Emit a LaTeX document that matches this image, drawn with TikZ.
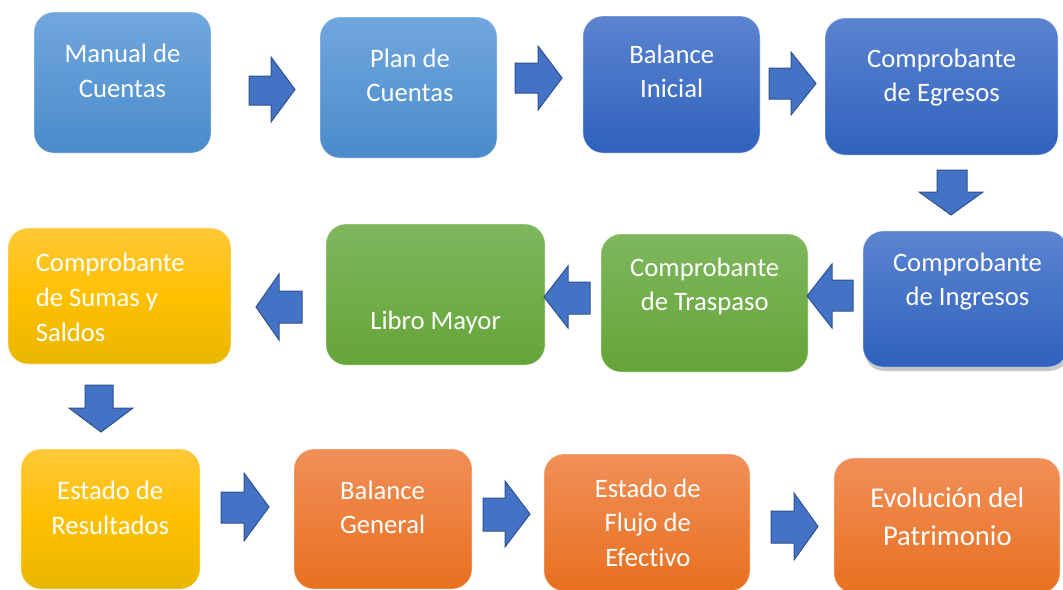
\documentclass[tikz,border=0pt]{standalone}
\usepackage{fontspec}
\setmainfont{Carlito}[Ligatures=NoCommon]
\usetikzlibrary{shadows}
\definecolor{lbTop}{HTML}{71A7DD}
\definecolor{lbBot}{HTML}{4A8BCB}
\definecolor{dbTop}{HTML}{5B83D0}
\definecolor{dbBot}{HTML}{2F62BD}
\definecolor{gTop}{HTML}{7EB75E}
\definecolor{gBot}{HTML}{65A537}
\definecolor{yTop}{HTML}{FFC838}
\definecolor{yMid}{HTML}{FFC000}
\definecolor{yBot}{HTML}{E8B700}
\definecolor{oTop}{HTML}{F18F58}
\definecolor{oBot}{HTML}{E8701F}
\definecolor{arFill}{HTML}{4472C4}
\definecolor{arLine}{HTML}{2F528F}
\tikzset{
  bx/.style 2 args={rectangle, rounded corners=15pt, inner sep=0pt,
    minimum width=#1*0.75pt, minimum height=#2*0.75pt,
    draw=white, draw opacity=0.45, line width=0.6pt},
  lightblue/.style={top color=lbTop, bottom color=lbBot},
  darkblue/.style={top color=dbTop, bottom color=dbBot},
  greenbox/.style={top color=gTop, bottom color=gBot},
  yellowbox/.style={top color=yTop, bottom color=yBot, middle color=yMid},
  orangebox/.style={top color=oTop, bottom color=oBot},
  txt/.style={text=white, inner sep=0pt, align=center,
    font=\fontsize{20}{26}\selectfont},
  txtbig/.style={text=white, inner sep=0pt, align=center,
    font=\fontsize{21.5}{29}\selectfont},
  softshadow/.style={drop shadow={shadow xshift=1pt, shadow yshift=-3pt, opacity=0.22, fill=black}},
  blockarrow/.style={fill=arFill, draw=arLine, line width=0.75pt, line join=miter}
}
\begin{document}
\begin{tikzpicture}[x=0.75pt,y=-0.75pt]
\useasboundingbox (0,0) rectangle (1063,589);
\clip (0,0) rectangle (1063,589);
% boxes
\node[bx={177}{141}, lightblue] (b1) at (122.5,82.5) {};
\node[bx={177}{141}, lightblue] (b2) at (408.5,87.5) {};
\node[bx={177}{137}, darkblue] (b3) at (671.5,84.5) {};
\node[bx={233}{137}, darkblue] (b4) at (941.5,86.5) {};
\node[bx={205}{136}, darkblue, softshadow] (b8) at (965.5,299) {};
\node[bx={207}{138}, greenbox] (b7) at (704.5,303) {};
\node[bx={219}{141}, greenbox] (b6) at (435.5,294.5) {};
\node[bx={223}{136}, yellowbox] (b5) at (119.5,296) {};
\node[bx={179}{140}, yellowbox] (b9) at (110.5,519) {};
\node[bx={178}{140}, orangebox] (b10) at (383,519) {};
\node[bx={206}{137}, orangebox] (b11) at (647,522.5) {};
\node[bx={226}{135}, orangebox] (b12) at (947,525.5) {};
% texts
\node[txt] (t1) at (122.5,73) {\strut Manual de\\Cuentas\strut};
\node[txt] (t2) at (410,77.4) {\strut Plan de\\Cuentas\strut};
\node[txt] (t3) at (671.7,73.4) {\strut Balance\\Inicial\strut};
\node[txt] (t4) at (941.7,77.4) {\strut Comprobante\\de Egresos\strut};
\node[txt] (t8) at (967.5,281.7) {\strut Comprobante\\de Ingresos\strut};
\node[txt] (t7) at (704.7,286.7) {\strut Comprobante\\de Traspaso\strut};
\node[txt] (t6) at (435.6,322.5) {\strut Libro Mayor\strut};
\node[txt, align=left, anchor=west] (t5) at (35.5,299.5) {\strut Comprobante\\de Sumas y\\Saldos\strut};
\node[txt] (t9) at (110.2,510) {\strut Estado de\\Resultados\strut};
\node[txt] (t10) at (382.6,509.7) {\strut Balance\\General\strut};
\node[txt] (t11) at (647.8,525) {\strut Estado de\\Flujo de\\Efectivo\strut};
\node[txtbig] (t12) at (947.3,518.6) {\strut Evolución del\\Patrimonio\strut};
% block arrows (right)
\draw[blockarrow] (249,76) -- (271,76) -- (271,57) -- (295,89.5) -- (271,122) -- (271,105) -- (249,105) -- cycle;
\draw[blockarrow] (515,63) -- (538,63) -- (538,46) -- (562,78) -- (538,110) -- (538,93) -- (515,93) -- cycle;
\draw[blockarrow] (769,68) -- (791,68) -- (791,52) -- (816,83.5) -- (791,115) -- (791,99) -- (769,99) -- cycle;
% down arrow
\draw[blockarrow] (937,170) -- (967,170) -- (967,192) -- (983,192) -- (951,215) -- (919,192) -- (937,192) -- cycle;
% left arrows
\draw[blockarrow] (853,280) -- (832,280) -- (832,264) -- (807,296) -- (832,328) -- (832,311) -- (853,311) -- cycle;
\draw[blockarrow] (590,282) -- (568,282) -- (568,266) -- (544,297) -- (568,328) -- (568,314) -- (590,314) -- cycle;
\draw[blockarrow] (302,291) -- (279,291) -- (279,274) -- (256,307) -- (279,340) -- (279,323) -- (302,323) -- cycle;
% down arrow 2
\draw[blockarrow] (85,385) -- (113,385) -- (113,408) -- (133,408) -- (101,432) -- (69,408) -- (85,408) -- cycle;
% bottom right arrows
\draw[blockarrow] (221,492) -- (244,492) -- (244,473) -- (269,507) -- (244,541) -- (244,523) -- (221,523) -- cycle;
\draw[blockarrow] (483,498) -- (505,498) -- (505,481) -- (530,514) -- (505,547) -- (505,531) -- (483,531) -- cycle;
\draw[blockarrow] (771,511) -- (794,511) -- (794,493) -- (818,526.5) -- (794,560) -- (794,543) -- (771,543) -- cycle;
\end{tikzpicture}
\end{document}
